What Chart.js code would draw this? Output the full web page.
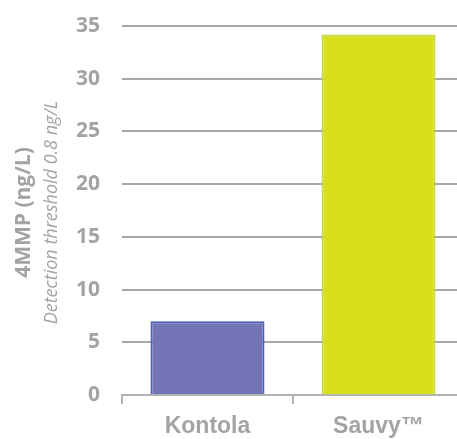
<!DOCTYPE html>
<html>
<head>
<meta charset="utf-8">
<script src="https://cdn.jsdelivr.net/npm/chart.js@4/dist/chart.umd.min.js"></script>
<style>
  html, body { margin: 0; padding: 0; background: #fff; overflow: hidden; }
  #wrap { width: 464px; height: 439px; position: relative; }
</style>
</head>
<body>
<div id="wrap"><canvas id="chart"></canvas></div>
<script>
// Données
const categories = ['Kontola', 'Sauvy™'];
const values = [7.0, 34.2];
const yTicks = [0, 5, 10, 15, 20, 25, 30, 35];
const yTitle = '4MMP (ng/L)';
const ySubtitle = 'Detection threshold 0.8 ng/L';

const fillColors = ['#7375b7', '#d8e01b'];
const borderColors = ['#4a62b5', '#c3da3a'];
const greyText = '#a3a3a3';

// Titre de l'axe Y sur deux lignes (polices différentes)
const axisTitlePlugin = {
  id: 'axisTitle',
  afterDraw(chart) {
    const ctx = chart.ctx;
    const area = chart.chartArea;
    const cy = (area.top + area.bottom) / 2 + 2;
    ctx.save();
    ctx.fillStyle = greyText;
    ctx.textAlign = 'center';
    ctx.textBaseline = 'middle';
    ctx.translate(24, cy);
    ctx.rotate(-Math.PI / 2);
    ctx.font = 'bold 21px "Open Sans"';
    ctx.fillText(yTitle, 0, 0);
    ctx.restore();

    ctx.save();
    ctx.fillStyle = greyText;
    ctx.textAlign = 'center';
    ctx.textBaseline = 'middle';
    ctx.translate(52, cy);
    ctx.rotate(-Math.PI / 2);
    ctx.font = 'italic 18px "Open Sans"';
    ctx.fillText(ySubtitle, 0, 0);
    ctx.restore();
  }
};

new Chart(document.getElementById('chart'), {
  type: 'bar',
  data: {
    labels: categories,
    datasets: [{
      data: values,
      backgroundColor: fillColors,
      borderColor: borderColors,
      borderWidth: 2,
      borderSkipped: 'bottom',
      categoryPercentage: 1,
      barPercentage: 0.667
    }]
  },
  options: {
    responsive: true,
    maintainAspectRatio: false,
    animation: false,
    layout: { padding: { top: 26, left: 0, right: 0, bottom: 0 } },
    plugins: {
      legend: { display: false },
      tooltip: { enabled: false }
    },
    scales: {
      x: {
        afterFit: (scale) => { scale.height = 44; },
        border: { display: true, color: '#b3b3b3', width: 2 },
        grid: {
          display: true,
          offset: true,
          drawOnChartArea: false,
          drawTicks: true,
          tickLength: 9,
          color: '#b3b3b3',
          lineWidth: 2
        },
        ticks: {
          color: greyText,
          padding: 9,
          font: { family: '"Liberation Sans", Arial, sans-serif', size: 23, weight: 'bold' }
        }
      },
      y: {
        min: 0,
        max: 35,
        afterFit: (scale) => { scale.width = 122; },
        afterBuildTicks: (scale) => { scale.ticks = yTicks.map(v => ({ value: v })); },
        border: { display: false },
        grid: {
          color: (c) => c.tick.value === 0 ? 'rgba(0,0,0,0)' : '#a8a8a8',
          lineWidth: 2,
          drawTicks: false
        },
        ticks: {
          color: greyText,
          padding: 22,
          // lineHeight réduit : évite que Chart.js ajoute une marge en haut
          font: { family: '"Open Sans", sans-serif', size: 21, weight: 'bold', lineHeight: 0.3 }
        }
      }
    }
  },
  plugins: [axisTitlePlugin]
});
</script>
</body>
</html>
